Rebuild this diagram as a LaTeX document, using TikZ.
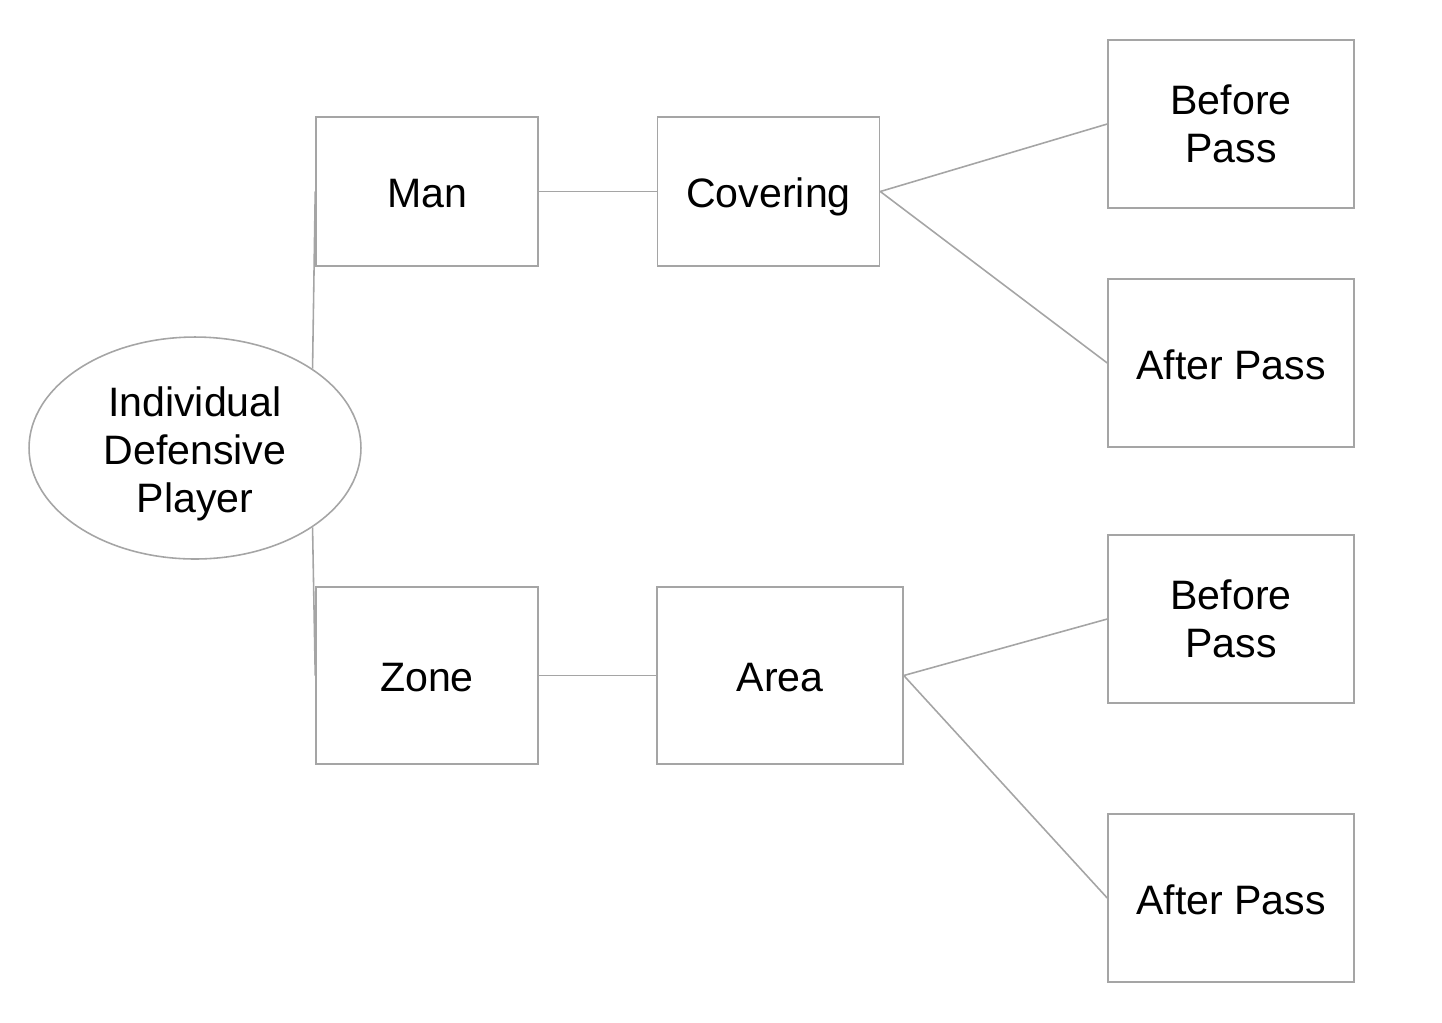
\documentclass[tikz,border=0pt]{standalone}
\usepackage{fontspec}
\setmainfont{Liberation Sans}
\usepackage{xcolor}
\usetikzlibrary{shapes.geometric,positioning}

\definecolor{linegray}{RGB}{165,165,165}

\begin{document}
\begin{tikzpicture}[
    x=0.02cm, y=-0.02cm,
    label text/.style={align=center, font=\fontsize{23.4}{27.4}\selectfont, inner sep=0pt,
      execute at begin node={\rule{0pt}{23.6pt}},
      execute at end node={\rule[-5pt]{0pt}{5pt}}},
    stack/.style={execute at begin node={\rule{0pt}{#1}}},
    box/.style={rectangle, draw=linegray, line width=0.9pt,
      minimum width=4.44cm, minimum height=2.98cm, label text},
    oval/.style={ellipse, draw=linegray, line width=0.9pt,
      minimum width=6.64cm, minimum height=4.44cm, label text, stack=78.5pt},
    leaf/.style={box, minimum width=4.92cm, minimum height=3.36cm},
    link/.style={draw=linegray, line width=0.9pt},
  ]
    \useasboundingbox (0,0) rectangle (1442,1022);

    % Nodes
    \node[oval] (player) at (195,448) {Individual\\Defensive\\Player};
    \node[box] (man) at (427,191.5) {Man};
    \node[box] (covering) at (768.5,191.5) {Covering};
    \node[box, minimum height=3.54cm] (zone) at (427,675.5) {Zone};
    \node[box, minimum width=4.92cm, minimum height=3.54cm] (area) at (780,675.5) {Area};

    % Leaves
    \node[leaf, stack=49pt] (manbefore) at (1231,124) {Before\\Pass};
    \node[leaf] (manafter) at (1231,363) {After Pass};
    \node[leaf, stack=49pt] (zonebefore) at (1231,619) {Before\\Pass};
    \node[leaf] (zoneafter) at (1231,898) {After Pass};

    % Connectors
    \draw[link] (player.34) -- (man.west);
    \draw[link] (player.-34) -- (zone.west);
    \draw[link] (man) -- (covering);
    \draw[link] (zone) -- (area);
    \draw[link] (covering.east) -- (manbefore.west);
    \draw[link] (covering.east) -- (manafter.west);
    \draw[link] (area.east) -- (zonebefore.west);
    \draw[link] (area.east) -- (zoneafter.west);
  \end{tikzpicture}
\end{document}
